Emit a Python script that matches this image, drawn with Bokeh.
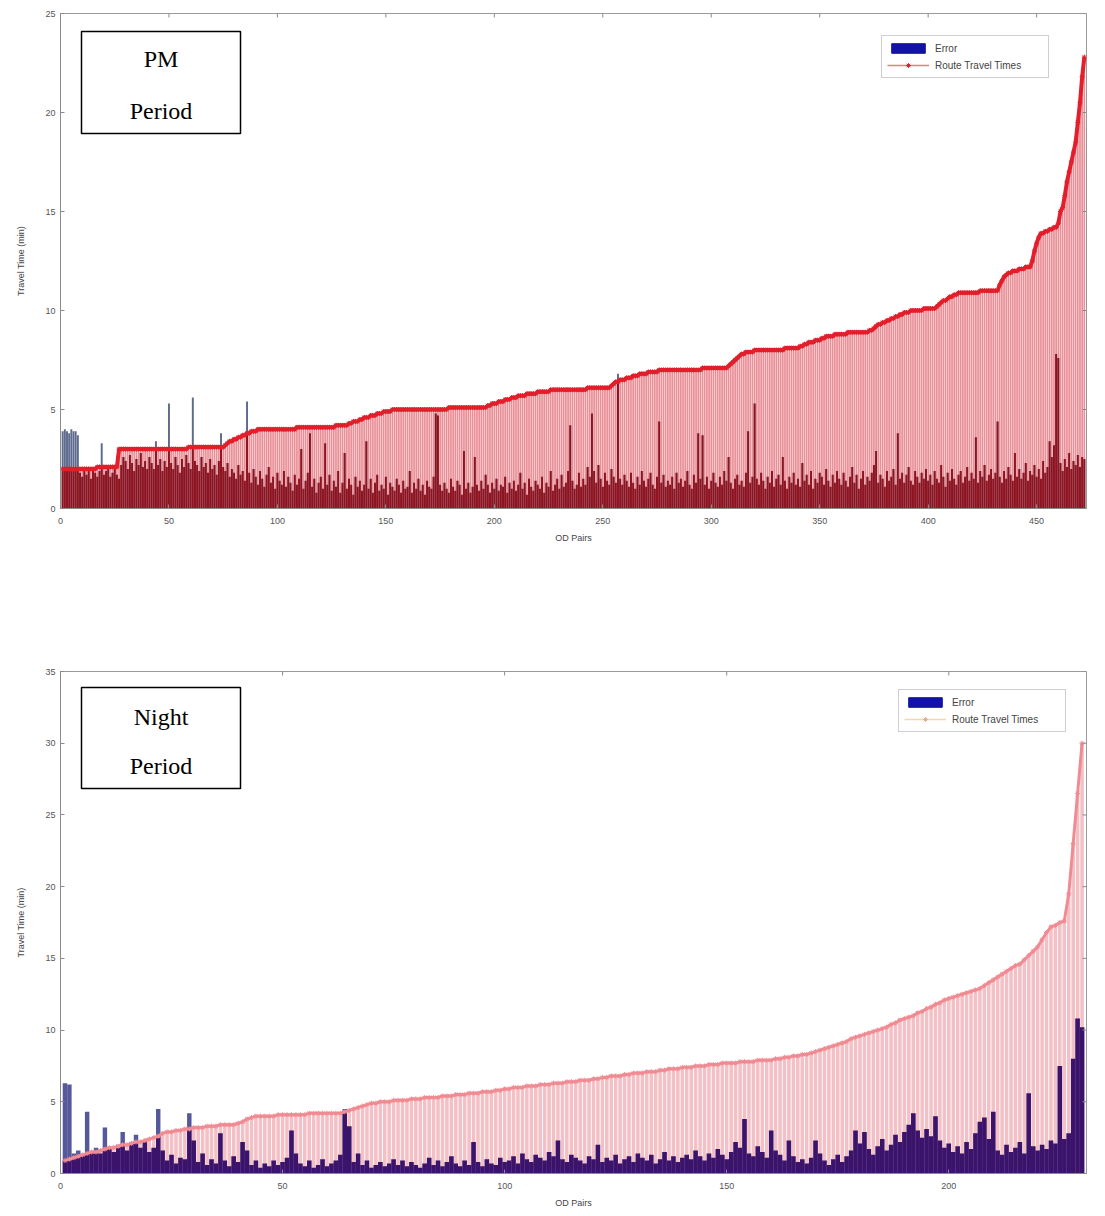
import numpy as np
from bokeh.plotting import figure
from bokeh.layouts import column
from bokeh.models import (ColumnDataSource, Range1d, FixedTicker, Legend,
                          LegendItem, BoxAnnotation, Label)
from bokeh.embed import file_html
from bokeh.resources import INLINE

# ---------------- data ----------------
X_LABEL = "OD Pairs"
Y_LABEL = "Travel Time (min)"
LEGEND_LABELS = ["Error", "Route Travel Times"]

PM_TITLE = ["PM", "Period"]
PM_XTICKS = [0, 50, 100, 150, 200, 250, 300, 350, 400, 450]
PM_YTICKS = [0, 5, 10, 15, 20, 25]
PM_YMAX = 25

PM_ROUTE = [
    2.0, 2.0, 2.0, 2.0, 2.0, 2.0, 2.0, 2.0, 2.0, 2.0,
    2.0, 2.0, 2.0, 2.0, 2.0, 2.0, 2.1, 2.1, 2.1, 2.1,
    2.1, 2.1, 2.1, 2.1, 2.1, 2.1, 3.0, 3.0, 3.0, 3.0,
    3.0, 3.0, 3.0, 3.0, 3.0, 3.0, 3.0, 3.0, 3.0, 3.0,
    3.0, 3.0, 3.0, 3.0, 3.0, 3.0, 3.0, 3.0, 3.0, 3.0,
    3.0, 3.0, 3.0, 3.0, 3.0, 3.0, 3.0, 3.0, 3.1, 3.1,
    3.1, 3.1, 3.1, 3.1, 3.1, 3.1, 3.1, 3.1, 3.1, 3.1,
    3.1, 3.1, 3.1, 3.1, 3.1, 3.2, 3.3, 3.4, 3.4, 3.5,
    3.5, 3.6, 3.6, 3.7, 3.7, 3.8, 3.8, 3.9, 3.9, 3.9,
    4.0, 4.0, 4.0, 4.0, 4.0, 4.0, 4.0, 4.0, 4.0, 4.0,
    4.0, 4.0, 4.0, 4.0, 4.0, 4.0, 4.0, 4.0, 4.1, 4.1,
    4.1, 4.1, 4.1, 4.1, 4.1, 4.1, 4.1, 4.1, 4.1, 4.1,
    4.1, 4.1, 4.1, 4.1, 4.1, 4.1, 4.2, 4.2, 4.2, 4.2,
    4.2, 4.2, 4.3, 4.3, 4.4, 4.4, 4.4, 4.5, 4.5, 4.6,
    4.6, 4.6, 4.7, 4.7, 4.7, 4.8, 4.8, 4.8, 4.9, 4.9,
    4.9, 4.9, 5.0, 5.0, 5.0, 5.0, 5.0, 5.0, 5.0, 5.0,
    5.0, 5.0, 5.0, 5.0, 5.0, 5.0, 5.0, 5.0, 5.0, 5.0,
    5.0, 5.0, 5.0, 5.0, 5.0, 5.0, 5.0, 5.0, 5.1, 5.1,
    5.1, 5.1, 5.1, 5.1, 5.1, 5.1, 5.1, 5.1, 5.1, 5.1,
    5.1, 5.1, 5.1, 5.1, 5.1, 5.1, 5.2, 5.2, 5.3, 5.3,
    5.3, 5.4, 5.4, 5.4, 5.5, 5.5, 5.5, 5.6, 5.6, 5.6,
    5.7, 5.7, 5.7, 5.7, 5.8, 5.8, 5.8, 5.8, 5.8, 5.9,
    5.9, 5.9, 5.9, 5.9, 5.9, 6.0, 6.0, 6.0, 6.0, 6.0,
    6.0, 6.0, 6.0, 6.0, 6.0, 6.0, 6.0, 6.0, 6.0, 6.0,
    6.0, 6.0, 6.1, 6.1, 6.1, 6.1, 6.1, 6.1, 6.1, 6.1,
    6.1, 6.1, 6.1, 6.2, 6.3, 6.4, 6.4, 6.5, 6.5, 6.5,
    6.6, 6.6, 6.6, 6.7, 6.7, 6.7, 6.8, 6.8, 6.8, 6.8,
    6.9, 6.9, 6.9, 6.9, 6.9, 7.0, 7.0, 7.0, 7.0, 7.0,
    7.0, 7.0, 7.0, 7.0, 7.0, 7.0, 7.0, 7.0, 7.0, 7.0,
    7.0, 7.0, 7.0, 7.0, 7.0, 7.1, 7.1, 7.1, 7.1, 7.1,
    7.1, 7.1, 7.1, 7.1, 7.1, 7.1, 7.1, 7.2, 7.3, 7.4,
    7.5, 7.6, 7.7, 7.8, 7.8, 7.9, 7.9, 7.9, 7.9, 8.0,
    8.0, 8.0, 8.0, 8.0, 8.0, 8.0, 8.0, 8.0, 8.0, 8.0,
    8.0, 8.0, 8.0, 8.1, 8.1, 8.1, 8.1, 8.1, 8.1, 8.1,
    8.2, 8.2, 8.3, 8.3, 8.4, 8.4, 8.4, 8.5, 8.5, 8.5,
    8.6, 8.6, 8.7, 8.7, 8.7, 8.7, 8.8, 8.8, 8.8, 8.8,
    8.8, 8.8, 8.9, 8.9, 8.9, 8.9, 8.9, 8.9, 8.9, 8.9,
    8.9, 8.9, 9.0, 9.0, 9.1, 9.2, 9.3, 9.3, 9.4, 9.4,
    9.5, 9.5, 9.6, 9.6, 9.7, 9.7, 9.8, 9.8, 9.9, 9.9,
    9.9, 10.0, 10.0, 10.0, 10.0, 10.0, 10.0, 10.1, 10.1, 10.1,
    10.1, 10.1, 10.1, 10.2, 10.3, 10.4, 10.5, 10.5, 10.6, 10.7,
    10.7, 10.8, 10.8, 10.9, 10.9, 10.9, 10.9, 10.9, 10.9, 10.9,
    10.9, 10.9, 10.9, 11.0, 11.0, 11.0, 11.0, 11.0, 11.0, 11.0,
    11.0, 11.0, 11.3, 11.5, 11.7, 11.8, 11.9, 11.9, 12.0, 12.0,
    12.0, 12.1, 12.1, 12.1, 12.2, 12.2, 12.2, 12.5, 13.0, 13.4,
    13.7, 13.9, 13.9, 14.0, 14.0, 14.1, 14.1, 14.2, 14.2, 14.4,
    15.0, 15.2, 15.8, 16.5, 17.0, 17.5, 18.0, 18.5, 19.5, 20.5,
    21.8, 22.8,
]

PM_ERROR = [
    3.9, 4.0, 3.9, 3.8, 4.0, 3.9, 3.9, 3.7, 1.8, 1.6, 2.0, 1.7, 1.9, 1.5, 2.1, 1.8, 1.6, 1.9, 3.3, 1.7,
    1.9, 2.0, 1.6, 1.8, 2.1, 1.7, 1.5, 2.2, 2.6, 2.4, 2.0, 2.7, 2.3, 1.9, 2.5, 2.2, 2.8, 2.1, 2.4, 2.0,
    2.6, 2.3, 2.0, 3.4, 2.2, 2.5, 1.9, 2.4, 2.1, 5.3, 2.3, 2.0, 2.6, 2.2, 1.8, 2.5, 2.1, 2.7, 2.3, 2.0,
    5.6, 2.4, 2.2, 1.9, 2.6, 2.1, 2.3, 1.8, 2.5, 2.0, 2.2, 1.7, 2.4, 3.8, 2.1, 1.9, 2.3, 1.6, 2.0, 1.8,
    1.5, 2.2, 1.7, 1.9, 1.4, 5.4, 1.8, 1.3, 2.0, 1.6, 1.2, 1.9, 1.5, 1.1, 1.7, 2.1, 1.3, 1.6, 1.0, 1.8,
    1.4, 1.2, 1.9, 1.1, 1.6, 1.3, 0.9, 1.7, 1.2, 1.5, 3.0, 1.0, 1.4, 1.8, 3.8, 1.1, 1.5, 0.8, 1.3, 1.6,
    1.0, 3.3, 1.2, 1.7, 0.9, 1.4, 1.1, 1.9, 0.8, 1.3, 2.8, 1.0, 1.5, 1.2, 0.7, 1.6, 1.1, 1.4, 0.9, 1.2,
    3.4, 1.0, 1.5, 0.8, 1.3, 1.7, 0.9, 1.2, 1.0, 1.6, 0.7, 1.3, 1.1, 0.9, 1.5, 1.2, 0.8, 1.4, 1.0, 1.1,
    1.9, 0.8, 1.3, 1.0, 1.5, 0.9, 1.2, 0.7, 1.4, 1.1, 1.0, 1.6, 4.8, 4.7, 1.2, 0.9, 1.3, 1.0, 0.8, 1.5,
    1.1, 0.9, 1.4, 1.2, 0.7, 2.9, 1.0, 1.3, 0.8, 1.1, 2.6, 1.2, 0.9, 1.4, 1.0, 1.7, 1.2, 0.8, 1.3, 1.0,
    1.5, 0.9, 1.2, 1.1, 1.6, 0.8, 1.3, 1.0, 1.4, 0.9, 1.2, 1.8, 1.0, 1.3, 0.7, 1.5, 1.1, 0.9, 1.4, 1.2,
    1.0, 1.6, 0.8, 1.3, 1.1, 1.9, 0.9, 1.2, 1.5, 1.0, 1.7, 1.1, 1.3, 1.9, 4.2, 1.4, 1.0, 1.2, 1.8, 1.1,
    1.5, 1.2, 2.1, 1.6, 4.8, 1.9, 1.3, 2.2, 1.5, 1.1, 1.8, 1.4, 1.2, 2.0, 1.6, 1.3, 6.8, 1.5, 1.2, 1.7,
    1.4, 1.1, 1.8, 1.3, 1.0, 1.6, 1.2, 1.9, 1.4, 1.1, 1.5, 1.8, 1.2, 1.0, 1.6, 4.4, 1.3, 1.7, 1.1, 1.4,
    1.2, 1.6, 1.0, 1.8, 1.3, 1.5, 1.1, 1.4, 1.9, 1.2, 1.0, 1.7, 1.3, 3.8, 1.5, 3.7, 1.2, 1.6, 1.0, 1.4,
    1.8, 1.3, 1.1, 1.6, 1.2, 1.9, 1.4, 2.6, 1.3, 1.0, 1.5, 1.7, 1.2, 1.4, 1.1, 1.8, 3.9, 1.3, 1.6, 5.3,
    1.5, 1.2, 1.8, 1.4, 1.0, 1.6, 1.3, 1.9, 1.1, 1.5, 1.7, 1.2, 2.6, 1.4, 1.0, 1.6, 1.3, 1.8, 1.2, 1.5,
    1.1, 2.3, 1.4, 1.7, 1.2, 1.9, 1.0, 1.5, 1.3, 1.8, 1.6, 1.2, 2.0, 1.4, 1.1, 1.7, 1.3, 1.9, 1.5, 1.2,
    1.8, 1.4, 1.1, 1.6, 2.1, 1.3, 1.7, 1.0, 1.5, 1.9, 1.2, 1.6, 1.4, 1.8, 2.2, 2.9, 1.3, 1.7, 1.5, 1.1,
    1.9, 1.4, 1.6, 2.0, 1.2, 3.8, 1.5, 1.8, 1.3, 1.7, 2.1, 1.4, 1.2, 1.9, 1.6, 1.3, 1.8, 1.5, 2.0, 1.4,
    1.7, 1.2, 1.9, 1.5, 1.3, 2.2, 1.6, 1.1, 1.8, 1.4, 2.0, 1.5, 1.2, 1.7, 1.9, 1.3, 1.6, 2.1, 1.4, 1.8,
    1.5, 3.6, 1.3, 1.9, 1.6, 2.2, 1.4, 1.7, 2.0, 1.5, 1.8, 4.4, 1.6, 1.3, 1.9, 1.5, 2.1, 1.7, 1.4, 2.8,
    1.6, 2.0, 1.5, 1.8, 2.3, 1.4, 1.9, 1.7, 2.2, 1.6, 2.0, 1.5, 2.4, 1.8, 2.1, 3.4, 2.6, 3.2, 7.8, 7.6,
    2.3, 1.9, 2.5, 2.1, 2.8, 2.0, 2.4, 2.2, 2.7, 2.1, 2.6, 2.5,
]

NIGHT_TITLE = ["Night", "Period"]
NIGHT_XTICKS = [0, 50, 100, 150, 200]
NIGHT_YTICKS = [0, 5, 10, 15, 20, 25, 30, 35]
NIGHT_YMAX = 35

NIGHT_ROUTE = [
    0.9, 1.0, 1.1, 1.2, 1.3, 1.4, 1.5, 1.5, 1.6, 1.7,
    1.8, 1.8, 1.9, 2.0, 2.0, 2.1, 2.2, 2.2, 2.3, 2.4,
    2.5, 2.6, 2.8, 2.9, 2.9, 3.0, 3.0, 3.1, 3.1, 3.2,
    3.2, 3.2, 3.3, 3.3, 3.3, 3.4, 3.4, 3.4, 3.4, 3.5,
    3.6, 3.8, 3.9, 4.0, 4.0, 4.0, 4.0, 4.0, 4.1, 4.1,
    4.1, 4.1, 4.1, 4.1, 4.1, 4.2, 4.2, 4.2, 4.2, 4.2,
    4.2, 4.2, 4.2, 4.3, 4.4, 4.5, 4.6, 4.7, 4.8, 4.9,
    4.9, 5.0, 5.0, 5.0, 5.1, 5.1, 5.1, 5.1, 5.2, 5.2,
    5.2, 5.3, 5.3, 5.3, 5.3, 5.4, 5.4, 5.4, 5.5, 5.5,
    5.5, 5.6, 5.6, 5.6, 5.7, 5.7, 5.7, 5.8, 5.8, 5.9,
    5.9, 6.0, 6.0, 6.0, 6.1, 6.1, 6.1, 6.2, 6.2, 6.2,
    6.3, 6.3, 6.3, 6.4, 6.4, 6.4, 6.5, 6.5, 6.5, 6.6,
    6.6, 6.7, 6.7, 6.8, 6.8, 6.8, 6.9, 6.9, 7.0, 7.0,
    7.0, 7.1, 7.1, 7.1, 7.2, 7.2, 7.3, 7.3, 7.3, 7.4,
    7.4, 7.4, 7.5, 7.5, 7.5, 7.6, 7.6, 7.6, 7.7, 7.7,
    7.7, 7.7, 7.8, 7.8, 7.8, 7.8, 7.9, 7.9, 7.9, 7.9,
    8.0, 8.0, 8.1, 8.1, 8.2, 8.2, 8.3, 8.3, 8.4, 8.5,
    8.6, 8.7, 8.8, 8.9, 9.0, 9.1, 9.2, 9.4, 9.5, 9.6,
    9.7, 9.8, 9.9, 10.0, 10.1, 10.2, 10.4, 10.5, 10.7, 10.8,
    10.9, 11.0, 11.2, 11.3, 11.5, 11.6, 11.8, 11.9, 12.1, 12.2,
    12.3, 12.4, 12.5, 12.6, 12.7, 12.8, 12.9, 13.1, 13.3, 13.5,
    13.7, 13.9, 14.1, 14.3, 14.5, 14.6, 14.9, 15.2, 15.5, 15.8,
    16.3, 16.8, 17.2, 17.3, 17.5, 17.6, 19.5, 23.0, 26.5, 30.0,
]

NIGHT_ERROR = [
    6.3, 6.2, 1.4, 1.6, 1.3, 4.3, 1.5, 1.8, 1.4, 3.2, 1.7, 1.5, 2.0, 2.9, 1.6, 2.2, 2.7, 1.8, 2.3, 1.5,
    1.8, 4.5, 1.6, 0.9, 1.3, 0.7, 1.1, 1.0, 4.2, 2.3, 0.8, 1.4, 0.6, 1.0, 0.7, 2.8, 0.9, 0.5, 1.2, 0.8,
    2.2, 1.6, 0.6, 0.9, 0.4, 0.7, 0.5, 0.9, 0.6, 0.8, 1.1, 3.0, 1.4, 0.7, 0.5, 0.9, 0.4, 0.6, 1.0, 0.5,
    0.7, 0.9, 1.3, 4.5, 3.3, 0.8, 1.4, 0.6, 0.9, 0.4, 0.6, 0.8, 0.5, 0.7, 1.0, 0.6, 0.9, 0.5, 0.8, 0.6,
    0.4, 0.7, 1.1, 0.6, 0.9, 0.5, 0.8, 1.2, 0.7, 0.5, 0.9, 0.6, 2.2, 0.8, 0.5, 1.0, 0.7, 0.6, 1.1, 0.8,
    0.9, 1.2, 0.7, 1.4, 1.0, 0.8, 1.3, 1.1, 0.9, 1.5, 1.2, 2.3, 1.0, 0.8, 1.3, 1.1, 0.9, 0.7, 1.2, 1.0,
    2.0, 0.8, 1.1, 0.9, 1.3, 0.7, 1.0, 1.2, 0.8, 1.4, 1.1, 0.9, 1.3, 0.7, 1.0, 1.5, 0.9, 1.2, 0.8, 1.1,
    1.3, 1.0, 1.6, 1.2, 0.9, 1.4, 1.1, 1.7, 1.3, 1.0, 1.5, 2.2, 1.8, 3.8, 1.4, 1.2, 1.9, 1.5, 1.1, 3.0,
    1.6, 1.3, 0.9, 2.3, 1.2, 0.8, 1.0, 0.7, 1.1, 2.3, 1.4, 0.9, 0.6, 1.0, 1.3, 0.8, 1.2, 1.6, 3.0, 2.1,
    2.9, 1.7, 1.3, 1.9, 2.4, 1.6, 2.0, 2.7, 2.2, 2.9, 3.4, 4.2, 3.0, 2.5, 3.1, 2.6, 4.0, 2.3, 1.8, 2.1,
    1.5, 1.9, 1.4, 2.2, 1.7, 2.8, 3.6, 3.9, 2.4, 4.3, 1.6, 1.3, 2.0, 1.5, 1.8, 2.2, 1.4, 5.6, 1.9, 1.6,
    2.0, 1.7, 2.3, 2.1, 7.5, 2.4, 2.8, 8.0, 10.8, 10.2,
]

# ---------------- layout constants (pixels) ----------------
FIG_W = 1105
FRAME_L = 60
FRAME_R = 1086
TICK_PX = 4


def style_axis(ax):
    ax.axis_line_color = "#8a8a8a"
    ax.major_tick_line_color = "#8a8a8a"
    ax.major_tick_in = TICK_PX
    ax.major_tick_out = 0
    ax.minor_tick_line_color = None
    ax.major_label_text_font = "Liberation Sans"
    ax.major_label_text_font_size = "9px"
    ax.major_label_text_color = "#555555"
    ax.axis_label_text_font = "Liberation Sans"
    ax.axis_label_text_font_size = "9px"
    ax.axis_label_text_font_style = "normal"
    ax.axis_label_text_color = "#444444"


def make_panel(route, err, xticks, yticks, ymax, title, height, top_px, bottom_px,
               page_offset, col):
    n = min(len(route), len(err))
    route = np.array(route[:n], dtype=float)
    err = np.array(err[:n], dtype=float)
    x = np.arange(1, n + 1)
    src = ColumnDataSource(dict(x=x, route=route, err=err,
                                err_in=np.minimum(err, route)))
    xmax = n + 1

    p = figure(width=FIG_W, height=height,
               x_range=Range1d(0, xmax), y_range=Range1d(0, ymax),
               output_backend="svg", toolbar_location=None,
               min_border_left=FRAME_L, min_border_right=FIG_W - FRAME_R,
               min_border_top=top_px - page_offset,
               min_border_bottom=height - (bottom_px - page_offset))
    p.background_fill_color = "white"
    p.border_fill_color = "white"
    p.outline_line_color = "#9a9a9a"
    p.outline_line_width = 1
    p.xgrid.visible = False
    p.ygrid.visible = False

    fw = FRAME_R - FRAME_L
    fh = bottom_px - top_px

    def dx(px):
        return (px - FRAME_L) / fw * xmax

    def dy(py):
        return (bottom_px - py) / fh * ymax

    ew = col["err_width"]
    p.vbar(x="x", top="err", width=ew, source=src,
           fill_color=col["err_out"], line_color=None)
    p.vbar(x="x", top="route", width=0.8, source=src,
           fill_color=col["route_bar"], line_color=None)
    p.vbar(x="x", top="err_in", width=ew, source=src,
           fill_color=col["err_in"], line_color=None)
    p.line(x="x", y="route", source=src, line_color=col["line"],
           line_width=col["line_w"])
    p.scatter(x="x", y="route", source=src, marker="asterisk", size=5,
              line_color=col["line"], line_width=1)

    style_axis(p.xaxis[0])
    style_axis(p.yaxis[0])
    p.xaxis[0].ticker = FixedTicker(ticks=xticks)
    p.yaxis[0].ticker = FixedTicker(ticks=yticks)
    p.xaxis[0].axis_label = X_LABEL
    p.yaxis[0].axis_label = Y_LABEL
    p.xaxis[0].major_label_standoff = 9
    p.xaxis[0].axis_label_standoff = 6
    p.yaxis[0].major_label_standoff = 5
    p.yaxis[0].axis_label_standoff = 16

    # box-style tick marks on the top and right edges (MATLAB box)
    tx = np.array(xticks, dtype=float)
    ty = np.array(yticks, dtype=float)
    tick_dy = TICK_PX / fh * ymax
    tick_dx = TICK_PX / fw * xmax
    p.segment(x0=tx, y0=np.full(len(tx), float(ymax)), x1=tx,
              y1=np.full(len(tx), ymax - tick_dy), line_color="#8a8a8a", line_width=1)
    p.segment(x0=np.full(len(ty), float(xmax)), y0=ty,
              x1=np.full(len(ty), xmax - tick_dx), y1=ty,
              line_color="#8a8a8a", line_width=1)

    off = -1000.0
    e_proxy = p.vbar(x=[off], top=[1.0], width=1, fill_color="#1212a8",
                     line_color="#1212a8")
    l_proxy = p.line(x=[off, off - 1], y=[1.0, 1.0], line_color=col["leg_line"],
                     line_width=1.5)
    m_proxy = p.scatter(x=[off], y=[1.0], marker="asterisk", size=6,
                        line_color=col["leg_mark"], line_width=1)
    leg = Legend(items=[LegendItem(label=LEGEND_LABELS[0], renderers=[e_proxy]),
                        LegendItem(label=LEGEND_LABELS[1], renderers=[l_proxy, m_proxy])],
                 location=col["legend_loc"], margin=0, padding=5, spacing=3,
                 glyph_width=42, glyph_height=12, label_height=14,
                 label_width=108, label_standoff=6,
                 label_text_font="Liberation Sans", label_text_font_size="10px",
                 label_text_color="#444444",
                 border_line_color="#a0a0a0", border_line_width=1,
                 background_fill_color="white", background_fill_alpha=1)
    p.add_layout(leg)

    bx = col["box"]
    p.add_layout(BoxAnnotation(left=dx(bx[0]), right=dx(bx[1]),
                               top=dy(bx[2]), bottom=dy(bx[3]),
                               fill_color="white", fill_alpha=1,
                               line_color="black", line_alpha=1, line_width=1.5))
    cx = dx((bx[0] + bx[1]) / 2)
    for t, py in zip(title, col["title_y"]):
        p.add_layout(Label(x=cx, y=dy(py), text=t, text_font="Liberation Serif",
                           text_font_size="24px", text_color="black",
                           text_align="center", text_baseline="middle"))
    return p


TOP_H = 650
BOT_H = 566

pm_cols = dict(err_out="#5d6b8f", route_bar="#e98f97", err_in="#8c1320",
               line="#e21f2b", line_w=4, leg_line="#e87a80", leg_mark="#e21f2b",
               err_width=0.9,
               legend_loc=(821, 430), box=(81, 240, 31, 133), title_y=(58, 110))
night_cols = dict(err_out="#55589a", route_bar="#f3c0c6", err_in="#3b136b",
                  line="#f08b93", line_w=3, leg_line="#f0d8b0", leg_mark="#e0b090",
                  err_width=1.0,
                  legend_loc=(838, 441), box=(81, 240, 687, 788), title_y=(716, 765))

p1 = make_panel(PM_ROUTE, PM_ERROR, PM_XTICKS, PM_YTICKS, PM_YMAX, PM_TITLE,
                TOP_H, 13, 508, 0, pm_cols)
p2 = make_panel(NIGHT_ROUTE, NIGHT_ERROR, NIGHT_XTICKS, NIGHT_YTICKS, NIGHT_YMAX,
                NIGHT_TITLE, BOT_H, 671, 1173, TOP_H, night_cols)

layout = column(p1, p2, spacing=0)
open("out.html", "w").write(file_html(layout, INLINE))
